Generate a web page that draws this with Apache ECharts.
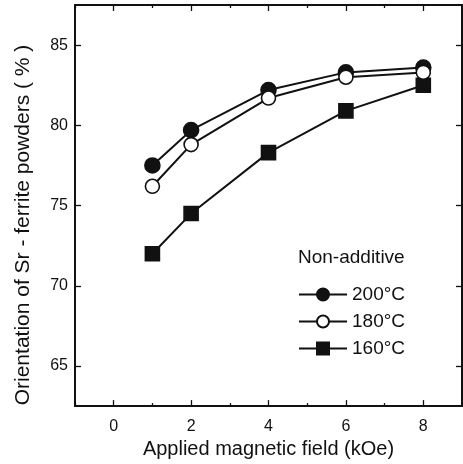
<!DOCTYPE html>
<html>
<head>
<meta charset="utf-8">
<script src="https://cdn.jsdelivr.net/npm/echarts@6/dist/echarts.min.js"></script>
<style>
  html, body { margin: 0; padding: 0; background: #fff; }
  #chart { width: 463px; height: 464px; }
</style>
</head>
<body>
<div id="chart"></div>
<script>
// data
const fieldValues = [1, 2, 4, 6, 8];            // kOe
const orient200 = [77.5, 79.7, 82.2, 83.3, 83.6];
const orient180 = [76.2, 78.8, 81.7, 83.0, 83.3];
const orient160 = [72.0, 74.5, 78.3, 80.9, 82.5];
const xMajorTicks = [0, 2, 4, 6, 8];
const xMinorTicks = [-1, 1, 3, 5, 7, 9];
const yTicks = [65, 70, 75, 80, 85];

const font = 'Liberation Sans, Arial, sans-serif';
const black = '#111';

const pairs = (ys) => fieldValues.map((x, i) => [x, ys[i]]);

// one axis drawn several times: bottom/top, major/minor ticks
const makeX = (pos, ticks, len, withLabels) => ({
  type: 'value',
  position: pos,
  min: -1,
  max: 9,
  interval: 1,
  axisLine: { show: true, onZero: false, lineStyle: { color: black, width: 2 } },
  axisTick: { show: true, inside: true, length: len, customValues: ticks, lineStyle: { color: black, width: 1.3 } },
  axisLabel: withLabels
    ? { show: true, customValues: xMajorTicks, color: black, fontSize: 16, fontFamily: font, margin: 12 }
    : { show: false },
  splitLine: { show: false }
});

const makeY = (pos, withLabels) => ({
  type: 'value',
  position: pos,
  min: 62.5,
  max: 87.5,
  interval: 5,
  axisLine: { show: true, onZero: false, lineStyle: { color: black, width: 2 } },
  axisTick: { show: true, inside: true, length: 6, customValues: yTicks, lineStyle: { color: black, width: 1.3 } },
  axisLabel: withLabels
    ? { show: true, customValues: yTicks, color: black, fontSize: 16, fontFamily: font, margin: 7 }
    : { show: false },
  splitLine: { show: false }
});

const chart = echarts.init(document.getElementById('chart'));

const xBottom = makeX('bottom', xMajorTicks, 6, true);
xBottom.name = 'Applied magnetic field (kOe)';
xBottom.nameLocation = 'middle';
xBottom.nameGap = 31;
xBottom.nameTextStyle = { color: black, fontSize: 20, fontFamily: font };

const lineSeries = (name, ys, symbol, fill, size) => ({
  name: name,
  type: 'line',
  xAxisIndex: 0,
  yAxisIndex: 0,
  data: pairs(ys),
  symbol: symbol,
  symbolSize: size,
  showSymbol: true,
  lineStyle: { color: black, width: 2 },
  itemStyle: { color: fill, borderColor: black, borderWidth: 1.6 },
  emphasis: { disabled: true },
  z: fill === '#fff' ? 3 : 2
});

chart.setOption({
  animation: false,
  backgroundColor: '#fff',
  grid: { left: 75, top: 5, right: 1, bottom: 55, containLabel: false },
  title: {
    text: 'Non-additive',
    left: 293,
    top: 243,
    textStyle: { color: black, fontSize: 19, fontWeight: 'normal', fontFamily: font }
  },
  legend: {
    left: 293,
    top: 280,
    orient: 'vertical',
    itemWidth: 48,
    itemHeight: 15,
    itemGap: 8,
    selectedMode: false,
    textStyle: { color: black, fontSize: 19, fontFamily: font, padding: [0, 0, 0, 0] },
    data: ['200°C', '180°C', '160°C']
  },
  graphic: [{
    type: 'text',
    x: 23,
    y: 225,
    rotation: Math.PI / 2,
    style: {
      text: 'Orientation of Sr - ferrite powders ( % )',
      fill: black,
      font: '21px ' + font,
      textAlign: 'center',
      textVerticalAlign: 'middle'
    }
  }],
  xAxis: [
    xBottom,
    makeX('bottom', xMinorTicks, 3, false),
    makeX('top', xMajorTicks, 6, false),
    makeX('top', xMinorTicks, 3, false)
  ],
  yAxis: [
    makeY('left', true),
    makeY('right', false)
  ],
  series: [
    lineSeries('160°C', orient160, 'rect', black, 14),
    lineSeries('200°C', orient200, 'circle', black, 15),
    lineSeries('180°C', orient180, 'circle', '#fff', 14)
  ]
});
</script>
</body>
</html>
